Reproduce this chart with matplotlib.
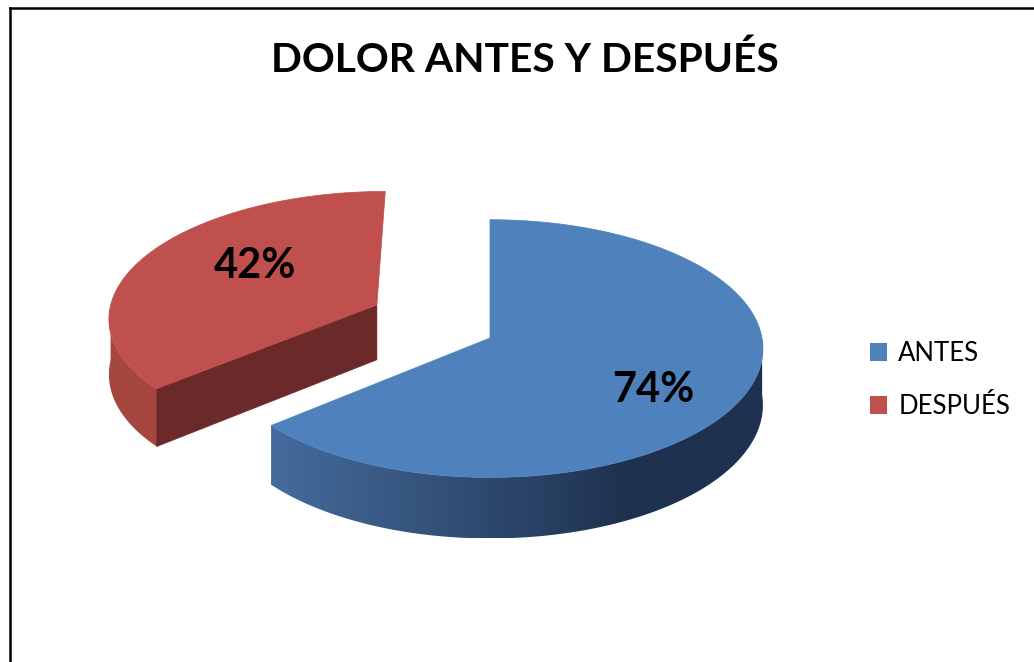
import numpy as np
import matplotlib.pyplot as plt
from matplotlib.patches import Polygon, Patch
from matplotlib.colors import to_rgb

# ---- data ----
title = "DOLOR ANTES Y DESPUÉS"
categories = ["ANTES", "DESPUÉS"]
values = [74, 42]
value_labels = ["74%", "42%"]

# ---- style ----
top_colors = ["#4f81bd", "#c0504d"]
wall_light = ["#446a9b", "#a6473f"]
wall_dark = ["#1e314e", "#9a403c"]
side_colors = ["#1f3350", "#6b2a29"]
explode = [0.0, 0.5]
explode_shift = -7   # degrees
label_radius = [0.70, 0.58]
label_shift = -9     # degrees, excel puts labels a bit off the slice middle

plt.rcParams['font.family'] = ['Lato', 'DejaVu Sans']

# pie geometry in pixels (axes below maps 1:1 to the image)
CX, CY = 490, 338
RX, RY = 272, 128
K = 0.082    # perspective strength
H = 56       # thickness of the pie
START = 90   # first slice starts at 12 o'clock, goes clockwise


def project(u, v, h=0.0):
    w = 1 + K * v
    return CX + RX * u / w, CY + (-RY * v + h) / w


def gradient_wall(ax, pts, c1, c2, tfunc):
    poly = Polygon(pts, closed=True, facecolor='none', edgecolor='none')
    ax.add_patch(poly)
    xs = np.array([p[0] for p in pts])
    ys = np.array([p[1] for p in pts])
    x0, x1 = xs.min(), xs.max()
    xx = np.linspace(x0, x1, 400)
    t = tfunc(xx)
    a, b = np.array(to_rgb(c1)), np.array(to_rgb(c2))
    img = (a[None, :] + (b - a)[None, :] * t[:, None])[None, :, :]
    im = ax.imshow(img, extent=(x0, x1, ys.max(), ys.min()), aspect='auto',
                   interpolation='bilinear', zorder=poly.get_zorder())
    im.set_clip_path(poly)


fig = plt.figure(figsize=(10.34, 6.62), dpi=100)
ax = fig.add_axes([0, 0, 1, 1])

fracs = np.array(values) / np.sum(values)
ends = START - 360 * np.cumsum(fracs)
starts = np.concatenate([[START], ends[:-1]])

slices = []
for i in range(len(values)):
    a0, a1 = starts[i], ends[i]
    ea = np.radians((a0 + a1) / 2 + (explode_shift if explode[i] else 0))
    ou, ov = explode[i] * np.cos(ea), explode[i] * np.sin(ea)
    slices.append((i, a0, a1, ou, ov))

# far slices first
slices.sort(key=lambda s: -s[4])

for i, a0, a1, ou, ov in slices:
    th = np.radians(np.linspace(a1, a0, 400))
    us = ou + np.cos(th)
    vs = ov + np.sin(th)

    # outer wall, only the runs facing the viewer
    vis = np.sin(th) < 0
    runs, cur = [], []
    for j in range(len(th)):
        if vis[j]:
            cur.append(j)
        elif cur:
            runs.append(cur)
            cur = []
    if cur:
        runs.append(cur)
    for run in runs:
        upper = [project(us[j], vs[j]) for j in run]
        lower = [project(us[j], vs[j], H) for j in run[::-1]]
        tf = lambda x: np.clip(((x - CX) / RX - ou + 0.77) / 1.3, 0, 1)
        gradient_wall(ax, upper + lower, wall_light[i], wall_dark[i], tf)

    # radial side faces
    for ang, nrm in ((a1, a1 - 90), (a0, a0 + 90)):
        if np.sin(np.radians(nrm)) < -0.05:
            eu, ev = ou + np.cos(np.radians(ang)), ov + np.sin(np.radians(ang))
            pts = [project(ou, ov), project(eu, ev), project(eu, ev, H), project(ou, ov, H)]
            ax.add_patch(Polygon(pts, closed=True, facecolor=side_colors[i],
                                 edgecolor=side_colors[i], lw=0.5))

    # top face
    top = [project(ou, ov)] + [project(u, v) for u, v in zip(us, vs)]
    ax.add_patch(Polygon(top, closed=True, facecolor=top_colors[i],
                         edgecolor=top_colors[i], lw=0.5))

    # value label
    la = np.radians((a0 + a1) / 2 + label_shift)
    lx, ly = project(ou + label_radius[i] * np.cos(la), ov + label_radius[i] * np.sin(la))
    ax.text(lx, ly, value_labels[i], ha='center', va='center',
            fontsize=30, fontweight='bold', color='black')

ax.text(525, 60, title, ha='center', va='center', fontsize=29.3, fontweight='bold')

handles = [Patch(facecolor=c, edgecolor='none') for c in top_colors]
ax.legend(handles, categories, loc='center left', bbox_to_anchor=(870 / 1034, 1 - 380 / 662),
          frameon=False, fontsize=18.5, handlelength=0.68, handleheight=0.68,
          handletextpad=0.42, labelspacing=1.1, borderpad=0, borderaxespad=0)

# chart frame (only left and top edges are in the crop)
ax.plot([10, 10], [662, 8], color='black', lw=1.8, solid_capstyle='projecting')
ax.plot([10, 1034], [8, 8], color='black', lw=1.8, solid_capstyle='projecting')

ax.set_xlim(0, 1034)
ax.set_ylim(662, 0)
ax.axis('off')

fig.savefig('out.png', dpi=100)
